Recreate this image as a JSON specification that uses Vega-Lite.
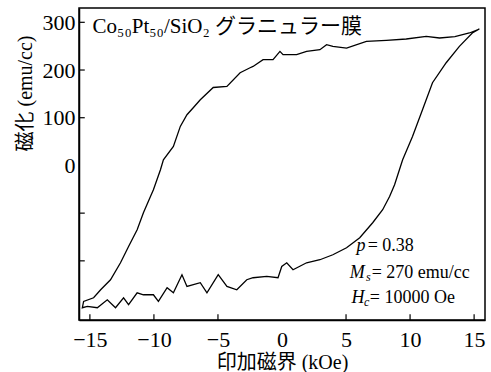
{
  "$schema": "https://vega.github.io/schema/vega-lite/v6.json",
  "width": 406,
  "height": 312,
  "autosize": {"type": "none"},
  "padding": {"left": 79, "top": 8, "right": 6, "bottom": 52},
  "background": "white",
  "config": {
    "view": {"stroke": "black", "strokeWidth": 1.5},
    "axis": {
      "grid": false,
      "ticks": false,
      "domainColor": "black",
      "domainWidth": 1.5,
      "labelColor": "black",
      "titleColor": "black",
      "labelFont": "Liberation Serif",
      "labelFontSize": 22,
      "titleFont": "Liberation Serif, Noto Sans CJK JP",
      "titleFontSize": 20,
      "titleFontWeight": "normal"
    }
  },
  "datasets": {
    "loop": [
      {"i": 1, "h": 15.41, "m": 286},
      {"i": 2, "h": 14.63, "m": 277.6},
      {"i": 3, "h": 13.5, "m": 270},
      {"i": 4, "h": 12.3, "m": 267.1},
      {"i": 5, "h": 11.26, "m": 270.4},
      {"i": 6, "h": 9.7, "m": 265.0},
      {"i": 7, "h": 8.15, "m": 262.1},
      {"i": 8, "h": 6.59, "m": 260.0},
      {"i": 9, "h": 5.04, "m": 246.1},
      {"i": 10, "h": 3.97, "m": 249.5},
      {"i": 11, "h": 3.48, "m": 253.0},
      {"i": 12, "h": 2.96, "m": 242.6},
      {"i": 13, "h": 1.92, "m": 239.0},
      {"i": 14, "h": 1.14, "m": 232.1},
      {"i": 15, "h": 0.08, "m": 232.1},
      {"i": 16, "h": -0.16, "m": 239.0},
      {"i": 17, "h": -0.7, "m": 221.6},
      {"i": 18, "h": -1.48, "m": 221.6},
      {"i": 19, "h": -2.26, "m": 207.5},
      {"i": 20, "h": -2.49, "m": 204.8},
      {"i": 21, "h": -3.27, "m": 194.3},
      {"i": 22, "h": -4.3, "m": 165.6},
      {"i": 23, "h": -5.37, "m": 163.4},
      {"i": 24, "h": -6.38, "m": 137.7},
      {"i": 25, "h": -6.93, "m": 121.0},
      {"i": 26, "h": -7.42, "m": 106.3},
      {"i": 27, "h": -7.94, "m": 81.8},
      {"i": 28, "h": -8.48, "m": 39.8},
      {"i": 29, "h": -9.26, "m": 11.9},
      {"i": 30, "h": -9.49, "m": -9.0},
      {"i": 31, "h": -10.04, "m": -50.9},
      {"i": 32, "h": -10.27, "m": -65.0},
      {"i": 33, "h": -10.82, "m": -99.2},
      {"i": 34, "h": -11.31, "m": -134.8},
      {"i": 35, "h": -11.98, "m": -169.8},
      {"i": 36, "h": -12.61, "m": -204.0},
      {"i": 37, "h": -13.39, "m": -239.6},
      {"i": 38, "h": -14.16, "m": -260.6},
      {"i": 39, "h": -14.71, "m": -277.4},
      {"i": 40, "h": -15.49, "m": -285.1},
      {"i": 41, "h": -15.59, "m": -298.3},
      {"i": 42, "h": -15.2, "m": -295.6},
      {"i": 43, "h": -14.42, "m": -298.3},
      {"i": 44, "h": -13.64, "m": -281.6},
      {"i": 45, "h": -13.0, "m": -298.3},
      {"i": 46, "h": -12.37, "m": -277.4},
      {"i": 47, "h": -11.98, "m": -292.0},
      {"i": 48, "h": -11.31, "m": -266.9},
      {"i": 49, "h": -10.82, "m": -271.1},
      {"i": 50, "h": -10.04, "m": -271.1},
      {"i": 51, "h": -9.65, "m": -285.1},
      {"i": 52, "h": -8.97, "m": -256.4},
      {"i": 53, "h": -8.48, "m": -266.9},
      {"i": 54, "h": -7.81, "m": -229.1},
      {"i": 55, "h": -7.42, "m": -253.7},
      {"i": 56, "h": -6.38, "m": -245.9},
      {"i": 57, "h": -5.86, "m": -266.9},
      {"i": 58, "h": -4.98, "m": -229.1},
      {"i": 59, "h": -4.3, "m": -253.7},
      {"i": 60, "h": -3.53, "m": -260.6},
      {"i": 61, "h": -2.75, "m": -239.6},
      {"i": 62, "h": -2.26, "m": -235.4},
      {"i": 63, "h": -1.19, "m": -232.7},
      {"i": 64, "h": -0.31, "m": -235.4},
      {"i": 65, "h": -0.02, "m": -211.7},
      {"i": 66, "h": 0.37, "m": -204.0},
      {"i": 67, "h": 0.86, "m": -218.7},
      {"i": 68, "h": 1.92, "m": -204.0},
      {"i": 69, "h": 2.96, "m": -197.7},
      {"i": 70, "h": 3.97, "m": -187.2},
      {"i": 71, "h": 5.04, "m": -172.5},
      {"i": 72, "h": 6.07, "m": -151.6},
      {"i": 73, "h": 7.08, "m": -120.1},
      {"i": 74, "h": 7.86, "m": -92.9},
      {"i": 75, "h": 8.4, "m": -65.0},
      {"i": 76, "h": 8.79, "m": -40.5},
      {"i": 77, "h": 9.42, "m": 11.9},
      {"i": 78, "h": 10.19, "m": 60.8},
      {"i": 79, "h": 10.97, "m": 116.8},
      {"i": 80, "h": 11.75, "m": 173.4},
      {"i": 81, "h": 12.82, "m": 215.3},
      {"i": 82, "h": 13.85, "m": 249.5},
      {"i": 83, "h": 14.86, "m": 277.6},
      {"i": 84, "h": 15.41, "m": 286}
    ],
    "xticks": [
      {"h": -15}, {"h": -10}, {"h": -5}, {"h": 5}, {"h": 10}, {"h": 15}
    ],
    "yticks": [
      {"m": -200}, {"m": -100}, {"m": 100}, {"m": 200}, {"m": 300}
    ],
    "italic": [
      {"t": "p", "h": 5.81, "m": -178.8},
      {"t": "M", "h": 5.29, "m": -236},
      {"t": "H", "h": 5.42, "m": -288.5}
    ],
    "subs": [
      {"t": "s", "h": 6.55, "m": -236},
      {"t": "c", "h": 6.4, "m": -288.5}
    ],
    "rest": [
      {"t": "= 0.38", "h": 6.69, "m": -178.8},
      {"t": "= 270 emu/cc", "h": 7.0, "m": -236},
      {"t": "= 10000 Oe", "h": 6.85, "m": -288.5}
    ],
    "label": [
      {"t": "Co₅₀Pt₅₀/SiO₂ グラニュラー膜", "h": -14.79, "m": 277.6}
    ]
  },
  "layer": [
    {
      "mark": {"type": "rule", "color": "black", "strokeWidth": 0.9},
      "encoding": {
        "x": {"datum": 0, "type": "quantitative"},
        "y": {"datum": 263, "type": "quantitative"},
        "y2": {"datum": -330}
      }
    },
    {
      "mark": {"type": "rule", "color": "black", "strokeWidth": 0.9},
      "encoding": {
        "y": {"datum": 0, "type": "quantitative"}
      }
    },
    {
      "data": {"name": "xticks"},
      "mark": {"type": "rule", "color": "black", "strokeWidth": 1.2},
      "encoding": {
        "x": {"field": "h", "type": "quantitative"},
        "y": {"datum": -324, "type": "quantitative"},
        "y2": {"datum": -312}
      }
    },
    {
      "data": {"name": "yticks"},
      "mark": {"type": "rule", "color": "black", "strokeWidth": 1.2},
      "encoding": {
        "y": {"field": "m", "type": "quantitative"},
        "x": {"datum": -15.85, "type": "quantitative"},
        "x2": {"datum": -15.4}
      }
    },
    {
      "data": {"name": "loop"},
      "mark": {"type": "line", "color": "black", "strokeWidth": 1.3},
      "encoding": {
        "x": {
          "field": "h",
          "type": "quantitative",
          "scale": {"domain": [-15.85, 15.85], "nice": false, "zero": false},
          "axis": {
            "values": [-15, -10, -5, 0, 5, 10, 15],
            "labelPadding": 9,
            "title": "印加磁界 (kOe)",
            "titlePadding": 2
          }
        },
        "y": {
          "field": "m",
          "type": "quantitative",
          "scale": {"domain": [-324, 330], "nice": false, "zero": false},
          "axis": {
            "values": [0, 100, 200, 300],
            "labelPadding": 4,
            "title": "磁化 (emu/cc)",
            "titleX": -54,
            "titleY": 85,
            "titleBaseline": "middle"
          }
        },
        "order": {"field": "i", "type": "quantitative"}
      }
    },
    {
      "data": {"name": "label"},
      "mark": {"type": "text", "align": "left", "baseline": "alphabetic", "font": "Liberation Serif, DejaVu Serif, Noto Sans CJK JP", "fontSize": 21, "color": "black"},
      "encoding": {
        "x": {"field": "h", "type": "quantitative"},
        "y": {"field": "m", "type": "quantitative"},
        "text": {"field": "t"}
      }
    },
    {
      "data": {"name": "italic"},
      "mark": {"type": "text", "align": "left", "baseline": "alphabetic", "font": "Liberation Serif", "fontStyle": "italic", "fontSize": 18, "color": "black"},
      "encoding": {
        "x": {"field": "h", "type": "quantitative"},
        "y": {"field": "m", "type": "quantitative"},
        "text": {"field": "t"}
      }
    },
    {
      "data": {"name": "subs"},
      "mark": {"type": "text", "align": "left", "baseline": "alphabetic", "dy": 3, "font": "Liberation Serif", "fontStyle": "italic", "fontSize": 12, "color": "black"},
      "encoding": {
        "x": {"field": "h", "type": "quantitative"},
        "y": {"field": "m", "type": "quantitative"},
        "text": {"field": "t"}
      }
    },
    {
      "data": {"name": "rest"},
      "mark": {"type": "text", "align": "left", "baseline": "alphabetic", "font": "Liberation Serif", "fontSize": 18, "color": "black"},
      "encoding": {
        "x": {"field": "h", "type": "quantitative"},
        "y": {"field": "m", "type": "quantitative"},
        "text": {"field": "t"}
      }
    }
  ]
}
